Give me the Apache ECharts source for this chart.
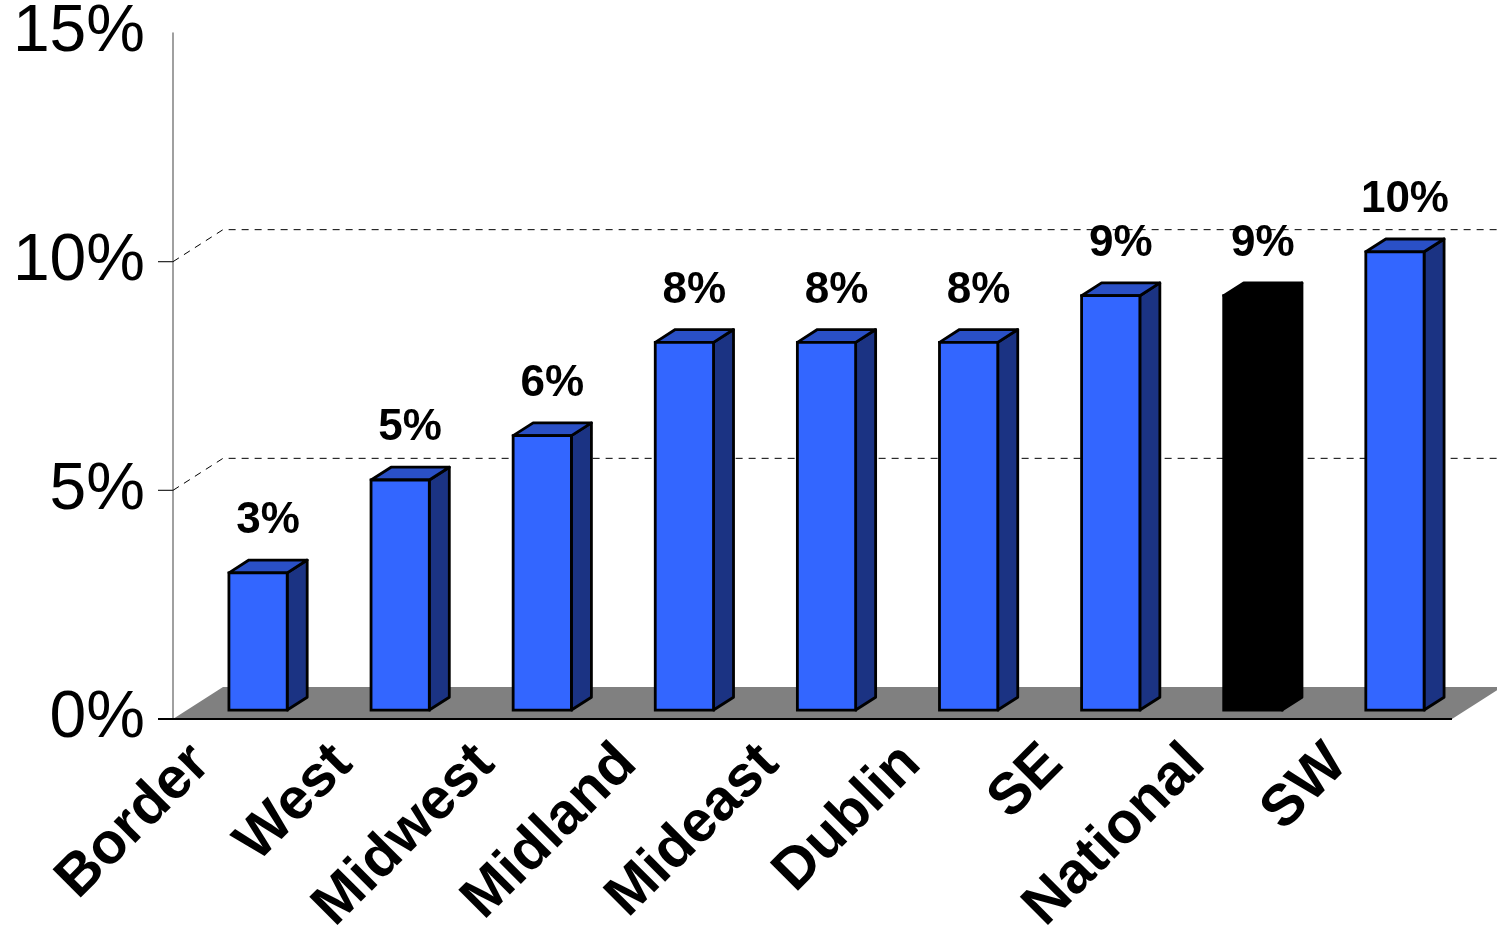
<!DOCTYPE html>
<html>
<head>
<meta charset="utf-8">
<script src="https://cdn.jsdelivr.net/npm/echarts@6/dist/echarts.min.js"></script>
<style>
html,body{margin:0;padding:0;background:#fff;}
#chart{width:1497px;height:939px;}
</style>
</head>
<body>
<div id="chart"></div>
<script>
// ---- data ----
const categories = ['Border', 'West', 'Midwest', 'Midland', 'Mideast', 'Dublin', 'SE', 'National', 'SW'];
const values = [3.0, 5.03, 6.0, 8.04, 8.04, 8.04, 9.06, 9.06, 10.02];
const valueLabels = ['3%', '5%', '6%', '8%', '8%', '8%', '9%', '9%', '10%'];
const highlightCategory = 'National';
const yTicks = [0, 5, 10, 15];
const gridValues = [5, 10];

// ---- style ----
const FONT = '"Liberation Sans", Arial, sans-serif';
const DEPTH_X = 50, DEPTH_Y = -32;     // full depth of the 3D box
const FRONT_FRAC = 0.28, SIDE_FRAC = 0.4, BAR_FRAC = 0.41;
const C_FRONT = '#3366FF', C_TOP = '#2A50C6', C_SIDE = '#1B3383';

const chart = echarts.init(document.getElementById('chart'));

function renderBackground(params, api) {
  const band = api.size([1, 0])[0];
  const p0 = api.coord([0, 0]);
  const pN = api.coord([categories.length - 1, 0]);
  const left = p0[0] - band / 2, right = pN[0] + band / 2;
  const y0 = p0[1];
  const children = [];
  children.push({
    type: 'polygon',
    shape: { points: [[left, y0], [left + DEPTH_X, y0 + DEPTH_Y], [right + DEPTH_X, y0 + DEPTH_Y], [right, y0]] },
    style: { fill: '#808080', stroke: null }
  });
  children.push({
    type: 'line',
    shape: { x1: left - 15, y1: y0, x2: right, y2: y0 },
    style: { stroke: '#000', lineWidth: 2 }
  });
  gridValues.forEach(function (v) {
    const y = api.coord([0, v])[1];
    children.push({
      type: 'line',
      shape: { x1: left - 15, y1: y, x2: left, y2: y },
      style: { stroke: '#222', lineWidth: 1.2 }
    });
    children.push({
      type: 'polyline',
      shape: { points: [[left, y], [left + DEPTH_X, y + DEPTH_Y], [right + DEPTH_X, y + DEPTH_Y]] },
      style: { stroke: '#000', lineWidth: 1, lineDash: [7, 6], fill: null }
    });
  });
  return { type: 'group', children: children };
}

function renderBar(params, api) {
  const idx = api.value(0), v = api.value(1);
  const base = api.coord([idx, 0]);
  const top = api.coord([idx, v]);
  const band = api.size([1, 0])[0];
  const bw = band * BAR_FRAC;
  const fx = FRONT_FRAC * DEPTH_X, fy = FRONT_FRAC * DEPTH_Y;
  const sx = SIDE_FRAC * DEPTH_X, sy = SIDE_FRAC * DEPTH_Y;
  const x0 = base[0] - bw / 2 + fx, x1 = x0 + bw;
  const yb = base[1] + fy, yt = top[1] + fy;
  const black = categories[idx] === highlightCategory;
  const front = black ? '#000' : C_FRONT, topC = black ? '#000' : C_TOP, side = black ? '#000' : C_SIDE;
  const lw = 2.8;
  return {
    type: 'group',
    children: [
      { type: 'polygon', shape: { points: [[x1, yb], [x1 + sx, yb + sy], [x1 + sx, yt + sy], [x1, yt]] },
        style: { fill: side, stroke: '#000', lineWidth: lw, lineJoin: 'round' } },
      { type: 'polygon', shape: { points: [[x0, yt], [x0 + sx, yt + sy], [x1 + sx, yt + sy], [x1, yt]] },
        style: { fill: topC, stroke: '#000', lineWidth: lw, lineJoin: 'round' } },
      { type: 'rect', shape: { x: x0, y: yt, width: bw, height: yb - yt },
        style: { fill: front, stroke: '#000', lineWidth: lw } },
      { type: 'text', x: (x0 + x1 + sx) / 2, y: yt + sy - 39,
        style: { text: valueLabels[idx], font: 'bold 44px ' + FONT, fill: '#000', align: 'center', verticalAlign: 'middle' } }
    ]
  };
}

chart.setOption({
  animation: false,
  backgroundColor: '#fff',
  grid: [
    { left: 173, right: 45, top: 29, bottom: 220 },
    { left: 130, right: 88, top: 29, bottom: 220 }
  ],
  xAxis: [
    { type: 'category', data: categories, gridIndex: 0, boundaryGap: true,
      axisLine: { show: false }, axisTick: { show: false }, axisLabel: { show: false } },
    { type: 'category', data: categories, gridIndex: 1, boundaryGap: true,
      axisLine: { show: false }, axisTick: { show: false },
      axisLabel: { show: true, rotate: 45, margin: 54, interval: 0,
        fontFamily: FONT, fontWeight: 'bold', fontSize: 58, color: '#000' } }
  ],
  yAxis: [
    { type: 'value', gridIndex: 0, min: yTicks[0], max: yTicks[yTicks.length - 1], interval: 5,
      axisLine: { show: true, lineStyle: { color: '#808080', width: 1.5 } },
      axisTick: { show: false },
      splitLine: { show: false },
      axisLabel: { formatter: '{value}%', margin: 28, fontFamily: FONT, fontSize: 66, color: '#000' } },
    { type: 'value', gridIndex: 1, min: 0, max: 15, show: false }
  ],
  series: [
    { type: 'custom', xAxisIndex: 0, yAxisIndex: 0, z: 1, silent: true,
      renderItem: renderBackground, data: [[0, 0]] },
    { type: 'custom', xAxisIndex: 0, yAxisIndex: 0, z: 3, silent: true,
      renderItem: renderBar, data: values.map(function (v, i) { return [i, v]; }) }
  ]
});
</script>
</body>
</html>
